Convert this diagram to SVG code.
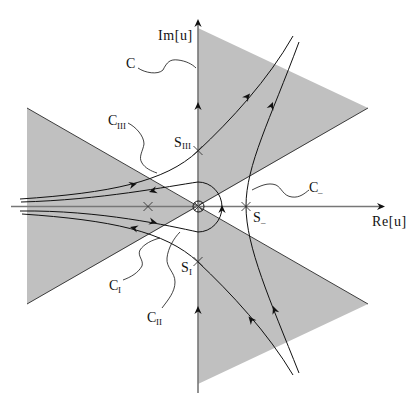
<svg xmlns="http://www.w3.org/2000/svg" width="415" height="410" viewBox="0 0 415 410">
<defs>
<style>
.sh{fill:#c0c0c0;stroke:none}
.edge{stroke:#2a2a2a;stroke-width:0.9;fill:none}
.axis{stroke:#777;stroke-width:1.6;fill:none}
.cur{stroke:#111;stroke-width:1;fill:none}
.lead{stroke:#111;stroke-width:0.8;fill:none}
.x{stroke:#333;stroke-width:0.9;fill:none}
.t{font-family:"Liberation Serif","Times New Roman",serif;font-size:14px;fill:#111}
.s{font-family:"Liberation Serif","Times New Roman",serif;font-size:9px;fill:#111}
.ah{fill:#111;stroke:none}
</style>
<path id="ah" d="M0,0 L-8,-3.6 L-5.5,0 L-8,3.6 Z"/>
<path id="xm" d="M-4.5,-4.5 L4.5,4.5 M-4.5,4.5 L4.5,-4.5"/>
</defs>
<g id="regions">
<polygon class="sh" points="27,108 198,206.5 27,304"/>
<polygon class="sh" points="198,28 368,108 198,206.5"/>
<polygon class="sh" points="198,206.5 368,304 198,384"/>
<line class="edge" x1="27" y1="108" x2="368" y2="304"/>
<line class="edge" x1="27" y1="304" x2="368" y2="108"/>
</g>
<g id="axes">
<line class="axis" x1="11" y1="206.5" x2="383" y2="206.5"/>
<line class="axis" x1="198" y1="393" x2="198" y2="21"/>
<use href="#ah" class="ah" transform="translate(385,206.5)"/>
<use href="#ah" class="ah" transform="translate(198,19) rotate(-90)"/>
<use href="#ah" class="ah" transform="translate(198,102) rotate(-90)"/>
<use href="#ah" class="ah" transform="translate(198,306) rotate(-90)"/>
<text class="t" x="158" y="40" letter-spacing="0.6">Im[u]</text>
<text class="t" x="372" y="226" letter-spacing="0.6">Re[u]</text>
</g>
<g id="connectors">
<path id="C" class="cur" d="M20,199 C110,193 165,182 198,151 C231,120 268,80 293,36"/>
<path id="loop" class="cur" d="M21,202 C100,200 170,186 198,182 A24,25 0 0 1 198,232 C170,226 100,210 20,211"/>
<path id="D" class="cur" d="M22,214 C110,220 165,231 198,262 C231,293 268,333 293,375"/>
<path id="B" class="cur" d="M299,42 C270,120 246,165 246,206 C246,247 270,300 299,373"/>
<circle class="cur" cx="198.5" cy="206.5" r="5.5"/>
<use href="#ah" class="ah" transform="translate(137,183.5) rotate(-14)"/>
<use href="#ah" class="ah" transform="translate(250,93.5) rotate(-50)"/>
<use href="#ah" class="ah" transform="translate(149,192) rotate(164)"/>
<use href="#ah" class="ah" transform="translate(157,223) rotate(14)"/>
<use href="#ah" class="ah" transform="translate(222,205) rotate(-90)"/>
<use href="#ah" class="ah" transform="translate(130,227) rotate(-166)"/>
<use href="#ah" class="ah" transform="translate(248.5,316.5) rotate(-130)"/>
<use href="#ah" class="ah" transform="translate(273,102) rotate(-68)"/>
<use href="#ah" class="ah" transform="translate(273,306) rotate(-111)"/>
</g>
<g id="points">
<use href="#xm" class="x" transform="translate(148,206.5)"/>
<use href="#xm" class="x" transform="translate(198.5,206.5)"/>
<use href="#xm" class="x" transform="translate(246,206.5)"/>
<use href="#xm" class="x" transform="translate(198,150.5)"/>
<use href="#xm" class="x" transform="translate(198,261.5)"/>
</g>
<g id="labels">
<text class="t" x="126" y="68">C</text>
<path class="lead" d="M138,68 C145,73 158,75 163,70 C167,62 170,59 178,60 C186,61 192,64 196,68"/>
<text class="t" x="108" y="125">C</text><text class="s" x="117" y="129">III</text>
<path class="lead" d="M128,123 C136,127 144,136 144,144 C143,151 138,157 142,163 C145,168 151,171 157,173"/>
<text class="t" x="174" y="147">S</text><text class="s" x="182" y="149">III</text>
<text class="t" x="309" y="192">C</text><text class="s" x="318" y="195">–</text>
<path class="lead" d="M252,190 C260,186 268,182 276,185 C282,188 283,196 292,197 C300,198 305,193 309,190"/>
<text class="t" x="253" y="222">S</text><text class="s" x="261" y="225">–</text>
<text class="t" x="181" y="272">S</text><text class="s" x="189" y="275">I</text>
<text class="t" x="109" y="290">C</text><text class="s" x="118" y="293">I</text>
<path class="lead" d="M123,280 C131,277 138,273 142,266 C144,260 137,256 140,250 C144,244 152,240 160,238"/>
<text class="t" x="147" y="322">C</text><text class="s" x="156" y="325">II</text>
<path class="lead" d="M162,308 C168,300 175,292 175,282 C175,272 166,268 167,258 C168,248 174,238 180,232"/>
</g>
</svg>
